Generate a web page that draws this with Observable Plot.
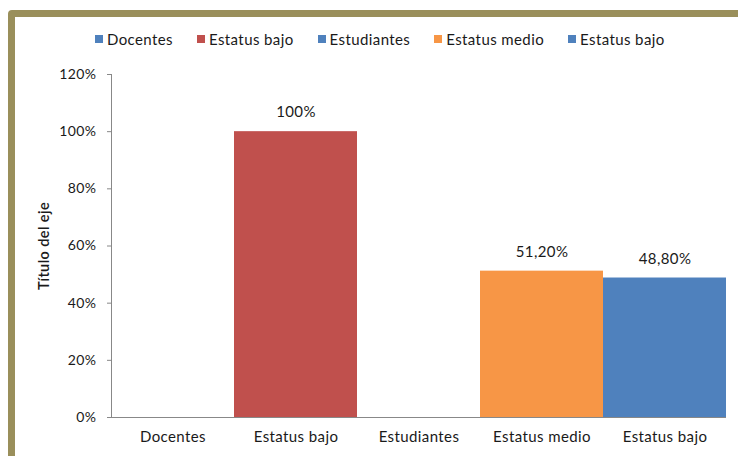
<!DOCTYPE html>
<html>
<head>
<meta charset="utf-8">
<script src="https://cdn.jsdelivr.net/npm/d3@7"></script>
<script src="https://cdn.jsdelivr.net/npm/@observablehq/plot@0.6"></script>
<style>
  html, body { margin: 0; padding: 0; background: #fff; }
  body { width: 738px; height: 456px; position: relative; overflow: hidden; font-family: Lato, "Open Sans", sans-serif; }
  #frame { position: absolute; left: 8px; top: 10px; width: 760px; height: 480px; border: 7px solid #9A8F5B; border-radius: 4px; box-sizing: border-box; }
  #legend { position: absolute; left: 95px; top: 30px; display: flex; gap: 24px; font-size: 15px; letter-spacing: 0.4px; color: #1a1a1a; }
  #legend .item { display: flex; align-items: center; gap: 4px; }
  #legend .sw { width: 8px; height: 8px; display: inline-block; }
  #chart { position: absolute; left: 0; top: 55px; }
  #chart svg text { letter-spacing: 0.4px; }
  #chart svg g.ytitle text { letter-spacing: 0.8px; }
</style>
</head>
<body>
<div id="frame"></div>
<div id="legend"></div>
<div id="chart"></div>
<script>
const categories = ["Docentes", "Estatus bajo", "Estudiantes", "Estatus medio", "Estatus bajo"];
const values = [null, 1.0, null, 0.512, 0.488];
const valueLabels = ["", "100%", "", "51,20%", "48,80%"];
const colors = ["#4F81BD", "#C0504D", "#4F81BD", "#F79646", "#4F81BD"];
const yTicks = [0, 0.2, 0.4, 0.6, 0.8, 1.0, 1.2];

const legend = document.getElementById("legend");
categories.forEach((c, i) => {
  const it = document.createElement("div");
  it.className = "item";
  it.innerHTML = `<span class="sw" style="background:${colors[i]}"></span><span>${c}</span>`;
  legend.appendChild(it);
});

const data = categories.map((c, i) => ({idx: i, cat: c, v: values[i], lab: valueLabels[i], color: colors[i]}));
const bars = data.filter(d => d.v != null);

const chart = Plot.plot({
  width: 738,
  height: 401,
  marginLeft: 111,
  marginRight: 12,
  marginTop: 19,
  marginBottom: 39,
  style: {fontFamily: "Lato, 'Open Sans', sans-serif", fontSize: "14px", color: "#1a1a1a", background: "transparent"},
  x: {type: "band", domain: d3.range(categories.length), padding: 0, axis: null},
  y: {domain: [0, 1.2], axis: null},
  marks: [
    Plot.barY(bars, {x: "idx", y: "v", fill: "color"}),
    Plot.text(bars, {x: "idx", y: "v", text: "lab", dy: -19, fill: "#1a1a1a", fontSize: 15}),
    Plot.axisX({ticks: d3.range(categories.length), tickFormat: i => categories[i], tickSize: 0, tickPadding: 14, label: null, fontSize: 15}),
    Plot.axisY({ticks: yTicks, tickFormat: d => Math.round(d * 100) + "%", tickSize: 4, tickPadding: 11, stroke: "#888", label: null, fontSize: 14}),
    Plot.axisY({ticks: [], tickSize: 0, label: "Título del eje", labelAnchor: "center", labelArrow: "none", labelOffset: 73, fontSize: 14.5, fontWeight: 600, className: "ytitle"}),
    Plot.frame({anchor: "left", stroke: "#888"}),
    Plot.ruleY([0], {stroke: "#888"})
  ]
});
document.getElementById("chart").appendChild(chart);
</script>
</body>
</html>
